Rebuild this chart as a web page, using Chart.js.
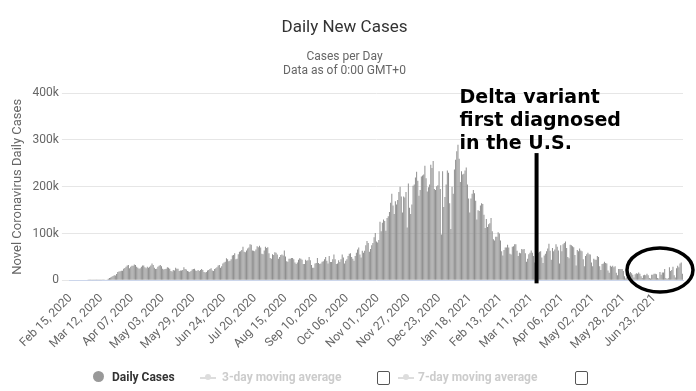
<!DOCTYPE html>
<html>
<head>
<meta charset="utf-8">
<script src="https://cdn.jsdelivr.net/npm/chart.js@4.4.1/dist/chart.umd.min.js"></script>
<style>
  body { margin: 0; background: #fff; }
  #wrap { position: relative; width: 696px; height: 391px; }
  #legend { position: absolute; left: 0; top: 368px; width: 696px; height: 20px;
    font-family: Roboto, "Noto Sans", sans-serif; font-size: 12px; }
  #legend span { position: absolute; top: 2px; white-space: nowrap; }
  .box { position: absolute; top: 3px; width: 11px; height: 12px; border: 1px solid #555; border-radius: 2px; background: #fff; }
</style>
</head>
<body>
<div id="wrap">
  <canvas id="chart" width="696" height="391"></canvas>
  <div id="legend">
    <span style="left:93px;top:3px;width:11px;height:11px;border-radius:50%;background:#999"></span>
    <span style="left:112px;color:#333;font-weight:bold">Daily Cases</span>
    <span style="left:200px;top:9px;width:16px;height:2px;background:#ddd"></span>
    <span style="left:205px;top:6px;width:6px;height:6px;border-radius:50%;background:#ddd"></span>
    <span style="left:222px;color:#ccc;font-weight:bold">3-day moving average</span>
    <div class="box" style="left:377px"></div>
    <span style="left:398px;top:9px;width:16px;height:2px;background:#ddd"></span>
    <span style="left:403px;top:6px;width:6px;height:6px;border-radius:50%;background:#ddd"></span>
    <span style="left:418px;color:#ccc;font-weight:bold">7-day moving average</span>
    <div class="box" style="left:575px"></div>
  </div>
</div>
<script>
var ctx = document.getElementById('chart').getContext('2d');

// daily new cases (thousands), one array per month
var feb2020 = [0,0,0,0,0,0,0,0,0,0,0,0,0,0,0];
var mar2020 = [0.02,0.02,0.03,0.03,0.07,0.08,0.1,0.13,0.15,0.3,0.45,0.45,0.6,0.7,0.8,1.1,1.8,3.3,4.8,6.2,7.7,9.4,11.1,10.6,13.8,17.9,18.7,19.5,20.3,20.3,24.7];
var apr2020 = [26.5,29,32,33,26,29,31,31,34,33,29,27,25,26,29,32,32,28,26,29,27,29,32,36,33,27,24,25,29,31];
var may2020 = [33,30,25,23,24,25,28,27,25,20,19,22,21,27,25,25,20,21,21,22,28,24,23,20,19,18,20,23,24,25,21];
var jun2020 = [20,22,20,22,24,22,18,17,18,21,22,24,26,21,20,24,26,28,32,33,27,30,36,38,40,47,45,41,42,45];
var jul2020 = [53,54,58,45,46,56,61,62,65,72,61,60,64,68,70,77,76,64,63,62,66,73,71,74,70,57,56,64,72,69,71];
var aug2020 = [58,48,46,56,54,60,59,55,46,50,54,55,53,64,51,41,40,46,46,48,48,45,38,35,38,44,47,46,44,35,35];
var sep2020 = [44,42,43,50,43,33,27,27,36,37,48,37,35,36,40,41,45,50,42,36,52,39,39,45,55,45,35,36,43,39];
var oct2020 = [45,55,49,36,42,45,52,57,58,50,46,42,52,59,66,70,55,49,63,59,63,75,84,80,61,67,75,80,92,101,83];
var nov2020 = [81,86,125,105,123,130,127,106,133,137,146,166,185,160,142,169,162,172,189,200,179,145,179,177,189,113,207,155,142,162];
var dec2020 = [202,205,220,232,213,181,193,222,224,226,245,218,190,199,205,247,240,255,195,193,201,203,233,195,98,233,157,178,205,235,230];
var jan2021 = [165,110,200,185,237,258,276,290,260,210,233,226,228,235,241,205,175,145,175,185,193,186,170,130,150,148,160,165,163,140,112];
var feb2021 = [131,114,120,122,133,105,88,85,93,93,103,100,85,62,53,65,70,70,76,70,57,55,72,73,77,77,63,52];
var mar2021 = [59,58,67,66,67,58,40,46,56,59,64,59,52,38,55,54,59,61,62,49,37,53,57,62,68,78,63,44,69,62,66];
var apr2021 = [77,72,64,36,75,62,77,80,83,69,50,47,76,75,73,71,54,32,65,62,68,64,62,45,30,52,56,59,56,55];
var may2021 = [38,30,46,44,44,52,50,30,22,35,36,40,37,36,21,16,31,29,31,28,30,16,11,24,24,24,24,20,9,4,7];
var jun2021 = [14,15,18,15,12,6,13,15,14,17,14,9,5,11,12,11,14,11,5,4,12,12,14,14,13,5,4,18,12,17];
var jul2021 = [17,24,5,3,5,28,20,22,29,11,6,26,31,28,36,38,14];

var tickLabels = ['Feb 15, 2020','Mar 12, 2020','Apr 07, 2020','May 03, 2020','May 29, 2020',
  'Jun 24, 2020','Jul 20, 2020','Aug 15, 2020','Sep 10, 2020','Oct 06, 2020','Nov 01, 2020',
  'Nov 27, 2020','Dec 23, 2020','Jan 18, 2021','Feb 13, 2021','Mar 11, 2021','Apr 06, 2021',
  'May 02, 2021','May 28, 2021','Jun 23, 2021'];
var tickEvery = 26;
var startDate = new Date(Date.UTC(2020, 1, 15));
var deltaDate = 'Mar 13, 2021';
var circleDate = 'Jun 28, 2021';

var cases = [].concat(feb2020, mar2020, apr2020, may2020, jun2020, jul2020, aug2020, sep2020,
  oct2020, nov2020, dec2020, jan2021, feb2021, mar2021, apr2021, may2021, jun2021, jul2021);

var months = ['Jan','Feb','Mar','Apr','May','Jun','Jul','Aug','Sep','Oct','Nov','Dec'];
var labels = cases.map(function(v, i) {
  var d = new Date(startDate.getTime() + i * 86400000);
  var dd = d.getUTCDate();
  return months[d.getUTCMonth()] + ' ' + (dd < 10 ? '0' + dd : dd) + ', ' + d.getUTCFullYear();
});

var font = 'Roboto, "Noto Sans", sans-serif';

var notes = {
  id: 'notes',
  afterDraw: function(chart) {
    var c = chart.ctx, x = chart.scales.x, y = chart.scales.y;
    c.save();
    // delta line + text
    var lx = x.getPixelForValue(labels.indexOf(deltaDate)) + 3;
    c.fillStyle = '#000';
    c.fillRect(lx - 2, y.getPixelForValue(272), 4, y.getPixelForValue(0) - y.getPixelForValue(272) + 3);
    c.font = 'bold 19px "DejaVu Sans"';
    c.textBaseline = 'alphabetic';
    var tx = lx - 77, ty = y.getPixelForValue(379);
    c.fillText('Delta variant', tx, ty);
    c.fillText('first diagnosed', tx, ty + 23);
    c.fillText('in the U.S.', tx, ty + 46);
    // circle
    var cx = x.getPixelForValue(labels.indexOf(circleDate)), cy = y.getPixelForValue(22);
    c.lineWidth = 3.5;
    c.strokeStyle = '#000';
    c.beginPath();
    c.ellipse(cx, cy, 33, 22, 0, 0, Math.PI * 2);
    c.stroke();
    c.restore();
  }
};

var chart = new Chart(ctx, {
  type: 'bar',
  data: {
    labels: labels,
    datasets: [{
      label: 'Daily Cases',
      data: cases,
      backgroundColor: '#909090',
      barPercentage: 0.85,
      categoryPercentage: 1
    }]
  },
  options: {
    responsive: false,
    animation: false,
    devicePixelRatio: 1,
    layout: { padding: { left: 6, right: 13, bottom: 36 } },
    plugins: {
      legend: { display: false },
      tooltip: { enabled: false },
      title: {
        display: true, text: 'Daily New Cases', color: '#333',
        font: { family: font, size: 17, weight: 'normal' }, padding: { top: 18, bottom: 11 }
      },
      subtitle: {
        display: true, text: ['Cases per Day', 'Data as of 0:00 GMT+0'], color: '#666',
        font: { family: font, size: 12 }, padding: { bottom: 15 }
      }
    },
    scales: {
      x: {
        grid: { display: false },
        border: { color: '#ccd6eb' },
        ticks: {
          autoSkip: false, maxRotation: 45, minRotation: 45, color: '#666',
          font: { family: font, size: 12 },
          callback: function(v, i) { return i % tickEvery === 0 ? tickLabels[i / tickEvery] : null; }
        }
      },
      y: {
        min: 0, max: 400,
        grid: { color: '#e6e6e6' },
        border: { display: false },
        ticks: {
          stepSize: 100, color: '#666', font: { family: font, size: 12 },
          callback: function(v) { return v === 0 ? '0' : v + 'k'; }
        },
        title: {
          display: true, text: 'Novel Coronavirus Daily Cases', color: '#666',
          font: { family: font, size: 13 }
        }
      }
    }
  },
  plugins: [notes]
});
</script>
</body>
</html>
